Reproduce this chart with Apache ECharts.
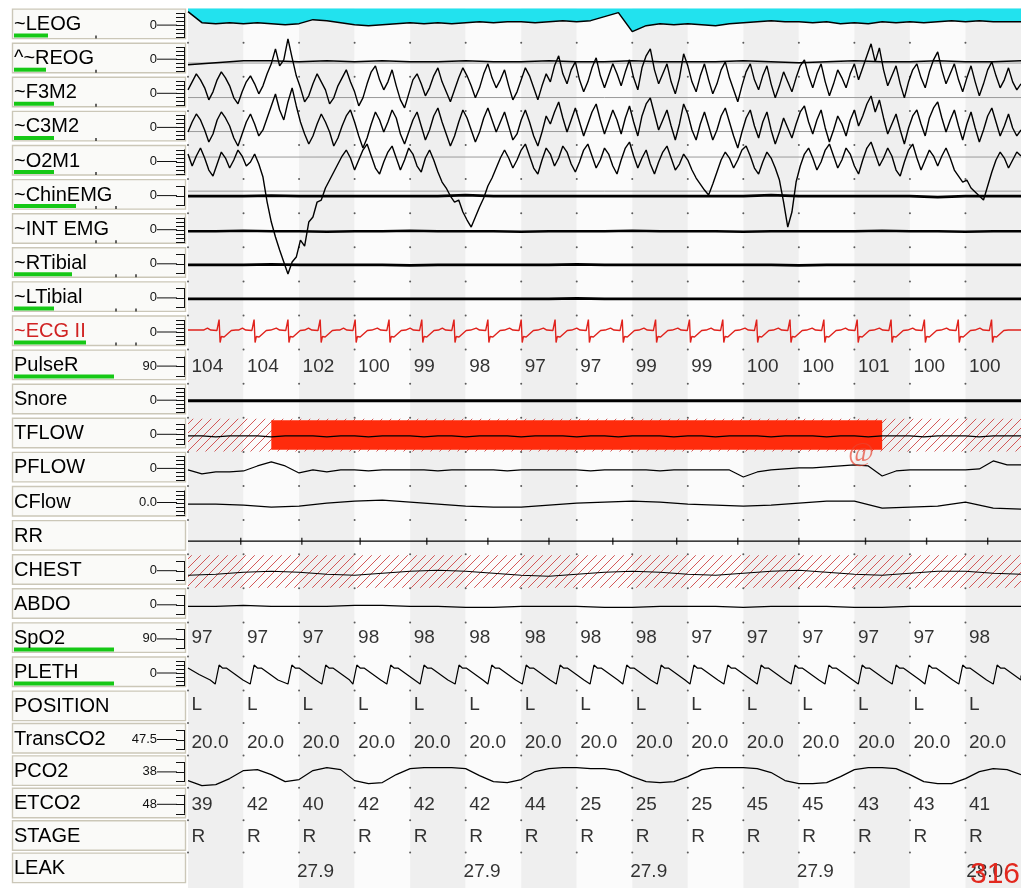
<!DOCTYPE html>
<html><head><meta charset="utf-8">
<script src="https://cdn.jsdelivr.net/npm/echarts/dist/echarts.min.js"></script>
<style>html,body{margin:0;padding:0;background:#fff}#c{width:1021px;height:888px}</style>
</head><body><div id="c"></div>
<script>
// ---------------- DATA ----------------
const EPOCH = 15; // seconds shown
const epochSec = [0,1,2,3,4,5,6,7,8,9,10,11,12,13,14];
const labels = ['~LEOG','^~REOG','~F3M2','~C3M2','~O2M1','~ChinEMG','~INT EMG','~RTibial','~LTibial','~ECG II','PulseR','Snore','TFLOW','PFLOW','CFlow','RR','CHEST','ABDO','SpO2','PLETH','POSITION','TransCO2','PCO2','ETCO2','STAGE','LEAK'];
const scaleText = ['0','0','0','0','0','0','0','0','0','0','90','0','0','0','0.0','','0','0','90','0','','47.5','38','48','',''];

const pulseR = [104,104,102,100,99,98,97,97,99,99,100,100,101,100,100];
const spo2 = [97,97,97,98,98,98,98,98,98,97,97,97,97,97,98];
const position = ['L','L','L','L','L','L','L','L','L','L','L','L','L','L','L'];
const transCO2 = ['20.0','20.0','20.0','20.0','20.0','20.0','20.0','20.0','20.0','20.0','20.0','20.0','20.0','20.0','20.0'];
const etco2 = [39,42,40,42,42,42,44,25,25,25,45,45,43,43,41];
const stage = ['R','R','R','R','R','R','R','R','R','R','R','R','R','R','R'];
const leakT = [1.9,4.9,7.9,10.9,13.95];
const leakV = ['27.9','27.9','27.9','27.9','28.0'];
const eventStart = 1.5, eventEnd = 12.5; // TFLOW red event (s)

const leog = [14,3,2,3,2,3,2,1,2,6,5,3,1,0,1,2,3,2,3,2,3,4,3,4,4,3,4,5,4,5,9,13,-6,0,2,1,2,1,0,2,3,4,5,4,4,3,4,2,3,2,4,3,4,3,4,5,4,5,4,4,4];
const reog = [-5,-3,-1,-1,-2,-1,-2,-1,-2,-2,-1,-2,-2,-1,-2,-2,-1,-2,-2,-2,-1,-2,-3,-2,-1,-2,-2,-1,-2,-2,-1];
const f3m2 = [4,12,20,14,6,-6,2,14,22,16,8,-4,-10,2,12,18,10,0,8,20,
 30,45,28,34,55,36,18,6,-8,-2,10,20,12,4,-10,-4,8,16,24,12,
 2,-12,-4,10,22,28,14,4,12,24,8,-6,-14,0,14,20,10,-2,6,18,
 26,12,2,-8,4,16,26,18,8,-4,6,20,30,16,6,14,24,8,-6,2,
 14,26,18,6,-6,8,20,12,28,38,20,10,24,32,14,2,12,26,36,18,
 6,18,30,20,8,22,34,16,4,26,38,45,24,10,20,30,12,0,16,40,
 28,12,2,18,30,14,0,10,24,32,16,4,-8,8,22,30,14,4,18,28,
 10,-4,8,22,12,2,16,28,34,18,6,20,30,12,-2,10,24,16,6,20,
 30,14,26,38,50,32,46,24,8,18,28,10,-4,12,24,30,16,6,22,34,
 42,24,10,20,30,14,2,16,28,12,-2,10,24,32,18,6,14,26,12,4,
 10];
const c3m2 = [-4,6,14,8,-2,-14,-6,8,16,10,2,-10,-18,-6,6,14,4,-8,-2,10,
 22,34,18,8,26,40,22,6,-6,-16,-8,4,14,6,-4,-18,-10,2,12,18,
 6,-8,-20,-10,4,16,8,-4,6,18,10,-6,-16,-4,8,16,2,-12,-2,12,
 20,6,-6,-18,-8,6,18,10,-2,-14,-4,10,20,8,-4,6,16,2,-12,-6,
 8,18,6,-8,-18,-4,12,4,16,26,10,-4,8,20,6,-8,4,16,24,8,
 -6,6,18,8,-6,10,22,6,-8,12,24,30,14,-2,8,18,2,-12,4,24,
 14,-2,-12,4,16,2,-12,-2,12,20,6,-8,-20,-4,10,18,2,-10,6,16,
 -2,-16,-4,10,0,-10,4,16,22,6,-6,8,18,0,-14,-2,12,4,-8,8,
 18,2,12,24,32,16,28,10,-6,4,14,-2,-16,0,12,18,4,-8,10,20,
 26,10,-4,8,18,2,-12,4,16,0,-14,-2,12,20,6,-8,2,14,0,-8,
 -2];
const o2m1 = [8,-4,6,14,4,-8,-14,-2,10,4,-6,2,12,6,-4,0,8,-2,-15,-40,
 -60,-75,-88,-100,-112,-100,-95,-78,-84,-60,-55,-40,-38,-26,-18,-10,-2,6,12,4,
 -8,2,12,18,6,-6,-12,0,10,16,4,-8,2,14,8,-4,-10,4,12,2,
 -10,-20,-26,-34,-40,-38,-50,-58,-65,-55,-45,-36,-24,-16,-6,4,12,4,-6,2,
 12,18,6,-6,-12,2,14,8,-4,4,16,10,-2,-10,0,12,18,6,-6,2,
 14,8,-4,-12,2,14,20,6,-6,4,12,-2,-12,0,10,16,4,-8,-2,8,
 2,-8,-16,-22,-28,-33,-22,-10,2,10,4,-6,2,12,16,6,-6,-12,0,10,
 4,-6,-18,-40,-65,-50,-20,-4,8,14,4,-8,0,12,18,6,-6,2,14,8,
 -4,-12,2,14,20,8,-4,4,14,6,-8,-14,0,12,18,4,-8,2,12,6,
 -4,6,14,4,-8,-14,-20,-18,-26,-30,-34,-38,-24,-10,2,10,4,-6,2,10,
 6];
const eegRef = [[1,-3.3],[2,-3.7],[3,-3.6],[4,5],[5,5]]; // grey reference lines [row, level]
const chinEmg = [0,0,0,0.5,0,0,0,0,0,0,1,0,0,0,0,0,0,0,0,0,0,1,0,0,0,0,0,-1,0,0,0];
const intEmg = [-1,-1,-0.5,-1,-1,-1.5,-1,-1,-0.5,-1,-1,-1,-1.5,-1,-1,-1,-0.5,-1,-1,-1,-1.5,-1,-1,-1,-1,-0.5,-1,-1,-1.5,-1,-1];
const rTibial = [-0.5,-0.5,-0.5,0,-0.5,-0.5,-0.5,-0.5,-1,-0.5,-0.5,-0.5,-0.5,-0.5,0,-0.5,-0.5,-0.5,-0.5,-0.5,-0.5,-0.5,-1,-0.5,-0.5,-0.5,-0.5,-0.5,-0.5,-0.5,-0.5];
const lTibial = [-0.5,-0.5,-0.5,-0.5,-0.5,-0.5,-0.5,-0.5,-0.5,-0.5,-0.5,-0.5,-0.5,-0.5,0,-0.5,-0.5,-0.5,-0.5,-0.5,-0.5,-0.5,-0.5,-0.5,-0.5,-0.5,-0.5,-0.5,-0.5,-0.5,-0.5];
const ecgR = [0.56,1.19,1.80,2.38,3.01,3.62,4.21,4.79,5.40,6.00,6.61,7.21,7.82,8.42,9.03,9.63,10.24,10.84,11.45,12.05,12.66,13.26,13.87,14.47];
const ecgBeat = [[-0.28,2.5],[-0.21,4.5],[-0.15,2.5],[-0.04,2],[-0.012,0.5],[0,13],[0.018,-10],[0.04,-4],[0.09,-4.5],[0.16,-1],[0.22,2],[0.3,2.5]];
const snore = [0,0,0,0,0,0,0,0,0,0,0,0,0,0,0,0];
const tflow = [-1,-1,-2,-1,-1,-1,-2,-1,-1,-1,-2,-1,-1,-2,-1,-1,-1,-2,-1,-1,-2,-1,-1,-1,-2,-1,-1,-1,-2,-1,-1,-2,-1,-1,-1,-2,-1,-1,-2,-1,-1,-1,-2,-1,-1,-1,-2,-1,-1,-2,-1,-1,-1,-2,-1,-1,-1,-2,-1,-1,-1];
const pflow = [-1,-5,-3,-3,-2,3,7,3,-4,-1,-3,-1,-1,-2,-1,-1,-1,-1,-2,-1,-1,-1,-1,-2,-1,-1,-1,-1,-1,-2,-1,-1,-1,-1,-2,-1,-1,-1,-1,-1,-8,-3,-1,0,1,1,2,3,4,3,-7,-2,-1,-1,-1,-1,-1,0,8,4,4];
const cflow = [-1,-1,-2,-4,-3,0,2,3,1,-1,-3,-4,-4,-2,0,1,2,1,-1,-2,-3,-2,0,2,2,-5,-4,-3,1,-5,-6];
const rrLine = [-4,-4];
const rrMarks = [0.95,2.05,3.1,4.3,5.4,6.5,7.65,8.8,9.9,11.0,12.2,13.3,14.4];
const chest = [-4,-3,-1,0,-1,-3,-4,-2,0,1,0,-2,-4,-5,-3,-1,0,-1,-3,-4,-2,0,1,-1,-3,-4,-2,0,0,-2,-3];
const abdo = [-1,-1,0,-1,-1,-1,0,0,-1,-1,-2,-2,-1,-1,-1,-2,-2,-1,-1,-1,-2,-1,-1,-1,-2,-2,-1,-1,-1,-1,-1];
const plethTrough = [0.49,1.12,1.80,2.41,2.97,3.58,4.18,4.81,5.40,6.02,6.63,7.24,7.83,8.45,9.04,9.65,10.25,10.86,11.47,12.07,12.68,13.27,13.88,14.50];
const plethBeat = [[0,-10.5],[0.07,8.5],[0.13,5.5],[0.2,5.5],[0.5,-6.5]];
const plethStart = [[0,5.5],[0.2,-1],[0.4,-6.5]];
const pco2 = [-9,-14,-13,-7,1,2,-3,-10,-8,1,4,2,-9,-12,-11,-3,3,4,4,4,3,-4,-10,-11,-8,0,3,4,4,3,3,1,-5,-10,-11,-10,-5,2,4,4,4,3,-1,-9,-12,-12,-11,-5,2,4,4,3,-3,-10,-12,-12,-7,0,3,2,-3];

// ---------------- LAYOUT ----------------
const PL = 188, PW = 833;
const rowTop = [], rowH = [];
(function(){ let y = 8.6; for (let i = 0; i < 26; i++) { const h = i < 20 ? 34.1 : 32.4; rowTop.push(y); rowH.push(h); y += h; } })();
const greenW = [34,32,40,40,40,62,0,58,40,72,100,0,0,0,0,0,0,0,100,100,0,0,0,0,0,0];
const nTicks = [7,7,7,7,7,3,7,3,3,7,3,7,5,7,7,0,3,3,3,7,0,3,3,3,0,0];
const boxTicks = [[96],[96],[96],[96],[96],[96,116],[96,116],[116,136],[116,136],[116,136]];
const FONT = '"Liberation Sans", Arial, sans-serif';

function evenly(v){ const n = v.length - 1; return v.map((y,i)=>[i*EPOCH/n, y]); }
function beats(times, shape, start, endVal){
  const pts = start ? start.slice() : [[0, shape[shape.length-1][1]]];
  times.forEach(t0 => shape.forEach(([dt,v]) => { const t = t0 + dt; if (t >= 0 && t <= EPOCH) pts.push([t, v]); }));
  pts.push([EPOCH, endVal]);
  return pts;
}
function hatch(){
  const c = document.createElement('canvas'); c.width = 9; c.height = 9;
  const x = c.getContext('2d'); x.strokeStyle = 'rgba(205,60,60,0.85)'; x.lineWidth = 1;
  x.beginPath(); x.moveTo(0,9); x.lineTo(9,0); x.moveTo(-1,1); x.lineTo(1,-1); x.moveTo(8,10); x.lineTo(10,8); x.stroke();
  return {image: c, repeat: 'repeat'};
}
const HATCH = hatch();

const grids = [], xAxes = [], yAxes = [], series = [];
for (let i = 0; i < 26; i++) {
  grids.push({left: PL, top: rowTop[i], width: PW, height: rowH[i]});
  xAxes.push({type:'value', gridIndex:i, min:0, max:EPOCH, show:false});
  yAxes.push({type:'value', gridIndex:i, min:-rowH[i]/2, max:rowH[i]/2, show:false});
}
// background grid with alternating second columns
grids.push({left: PL, top: rowTop[0], width: PW, height: 888 - rowTop[0]});
xAxes.push({type:'value', gridIndex:26, min:0, max:EPOCH, show:false});
yAxes.push({type:'value', gridIndex:26, min:0, max:1, show:false});
series.push({type:'line', xAxisIndex:26, yAxisIndex:26, data:[[0,-5]], symbol:'none', silent:true,
  markArea:{silent:true, data: epochSec.map(k => [{xAxis:k, itemStyle:{color: k%2===0 ? '#efefef' : '#fbfbfb'}}, {xAxis:k+1}])}});

function line(row, data, opt){
  return Object.assign({type:'line', xAxisIndex:row, yAxisIndex:row, data, symbol:'none', clip:false, silent:true,
    lineStyle:{color:'#000', width:1.2}}, opt || {});
}
function textRow(row, times, texts, dy){
  return {type:'scatter', xAxisIndex:row, yAxisIndex:row, symbolSize:1, clip:false, silent:true,
    itemStyle:{color:'rgba(0,0,0,0)'},
    data: texts.map((s,k)=>({name:String(s), value:[times[k], dy]})),
    label:{show:true, position:'right', distance:3, formatter:'{b}', color:'#000', fontSize:19, fontFamily:FONT}};
}
// grey reference lines in EEG block
eegRef.forEach(([r, lv]) => series.push({type:'line', xAxisIndex:r, yAxisIndex:r, data:[[0,lv],[EPOCH,lv]], symbol:'none', silent:true, clip:false, lineStyle:{color:'#9a9a9a', width:1}}));

series.push(line(0, evenly(leog), {lineStyle:{color:'#000', width:1.5}, areaStyle:{color:'#22e2ee', opacity:1, origin:'end'}}));
series.push(line(1, evenly(reog), {lineStyle:{color:'#000', width:1.5}}));
series.push(line(2, evenly(f3m2), {lineStyle:{color:'#000', width:1.4}}));
series.push(line(3, evenly(c3m2), {lineStyle:{color:'#000', width:1.4}}));
series.push(line(4, evenly(o2m1), {lineStyle:{color:'#000', width:1.4}}));
series.push(line(5, evenly(chinEmg), {lineStyle:{color:'#000', width:2.8}}));
series.push(line(6, evenly(intEmg), {lineStyle:{color:'#000', width:2.4}}));
series.push(line(7, evenly(rTibial), {lineStyle:{color:'#000', width:2.8}}));
series.push(line(8, evenly(lTibial), {lineStyle:{color:'#000', width:2.8}}));
series.push(line(9, beats(ecgR, ecgBeat, null, 2.5), {lineStyle:{color:'#e0221c', width:1.4}}));
series.push(textRow(10, epochSec, pulseR, 0));
series.push(line(11, evenly(snore), {lineStyle:{color:'#000', width:2.8}}));
series.push(line(12, evenly(tflow), {lineStyle:{color:'#000', width:1.3}, z:3,
  markArea:{silent:true, data:[
    [{xAxis:0, yAxis:-rowH[12]/2+0.5, itemStyle:{color:HATCH}}, {xAxis:EPOCH, yAxis:rowH[12]/2-1}],
    [{xAxis:eventStart, yAxis:-15, itemStyle:{color:'#ff2b0c'}}, {xAxis:eventEnd, yAxis:14.5}]
  ]}}));
series.push(line(13, evenly(pflow)));
series.push(line(14, evenly(cflow)));
series.push(line(15, evenly(rrLine), {lineStyle:{color:'#000', width:1.3}}));
series.push({type:'scatter', xAxisIndex:15, yAxisIndex:15, symbol:'rect', symbolSize:[1.4,7], silent:true,
  itemStyle:{color:'#000'}, data: rrMarks.map(t => [t, -4])});
series.push(line(16, evenly(chest), {
  markArea:{silent:true, data:[[{xAxis:0, yAxis:-rowH[16]/2+0.5, itemStyle:{color:HATCH}}, {xAxis:EPOCH, yAxis:rowH[16]/2-1}]]}}));
series.push(line(17, evenly(abdo)));
series.push(textRow(18, epochSec, spo2, 2));
series.push(line(19, beats(plethTrough, plethBeat, plethStart, -2)));
series.push(textRow(20, epochSec, position, 2));
series.push(textRow(21, epochSec, transCO2, -3.5));
series.push(line(22, evenly(pco2)));
series.push(textRow(23, epochSec, etco2, -1));
series.push(textRow(24, epochSec, stage, 0));
series.push(textRow(25, leakT, leakV, -3));
// grid dots at row boundaries
for (let i = 1; i < 26; i++) {
  series.push({type:'scatter', xAxisIndex:i, yAxisIndex:i, symbolSize:2, silent:true, clip:false,
    itemStyle:{color:'#333'}, data: epochSec.map(k => [k, rowH[i]/2])});
}

// ---------------- LEFT PANEL ----------------
const g = [];
for (let i = 0; i < 26; i++) {
  const top = rowTop[i];
  g.push({type:'rect', silent:true, shape:{x:12.5, y:top+0.5, width:173, height:29.5}, style:{fill:'#fafaf8', stroke:'#cbc7b8', lineWidth:1.4}});
  if (greenW[i]) g.push({type:'rect', silent:true, shape:{x:14, y:top+25, width:greenW[i], height:4}, style:{fill:'#16c816'}});
  g.push({type:'text', silent:true, x:14, y:top+16, style:{text:labels[i], font:'20px ' + FONT, fill: i===9 ? '#d02222' : '#000', verticalAlign:'middle'}});
  (boxTicks[i] || []).forEach(bx => g.push({type:'line', silent:true, shape:{x1:bx, y1:top+27, x2:bx, y2:top+30}, style:{stroke:'#333', lineWidth:1.5}}));
  if (scaleText[i] !== '') {
    const zy = top + 16.5;
    g.push({type:'text', silent:true, x:157, y:zy, style:{text:scaleText[i], font:'13px ' + FONT, fill:'#111', align:'right', verticalAlign:'middle'}});
    g.push({type:'line', silent:true, shape:{x1:157, y1:zy, x2:177, y2:zy}, style:{stroke:'#111', lineWidth:1}});
    const n = nTicks[i], sp = n >= 7 ? 4 : (n === 5 ? 5 : 9.5);
    for (let j = 0; j < n; j++) {
      const ty = Math.round(zy + (j - (n-1)/2) * sp) + 0.5;
      g.push({type:'line', silent:true, shape:{x1:176, y1:ty, x2:185, y2:ty}, style:{stroke:'#111', lineWidth:1}});
    }
    const half = (n-1)/2*sp;
    g.push({type:'line', silent:true, shape:{x1:184.5, y1:zy-half, x2:184.5, y2:zy+half}, style:{stroke:'#111', lineWidth:1}});
  }
}
g.push({type:'text', silent:true, x:848, y:454, z:10, style:{text:'@', font:'italic 28px "Liberation Serif", serif', fill:'rgba(232,70,50,0.7)', verticalAlign:'middle'}});
g.push({type:'text', silent:true, x:1020, y:875, z:10, style:{text:'316', font:'30px ' + FONT, fill:'#e2281e', align:'right', verticalAlign:'middle'}});

const chart = echarts.init(document.getElementById('c'), null, {renderer:'canvas'});
chart.setOption({animation:false, backgroundColor:'#ffffff', grid:grids, xAxis:xAxes, yAxis:yAxes, series:series, graphic:g});
</script></body></html>
